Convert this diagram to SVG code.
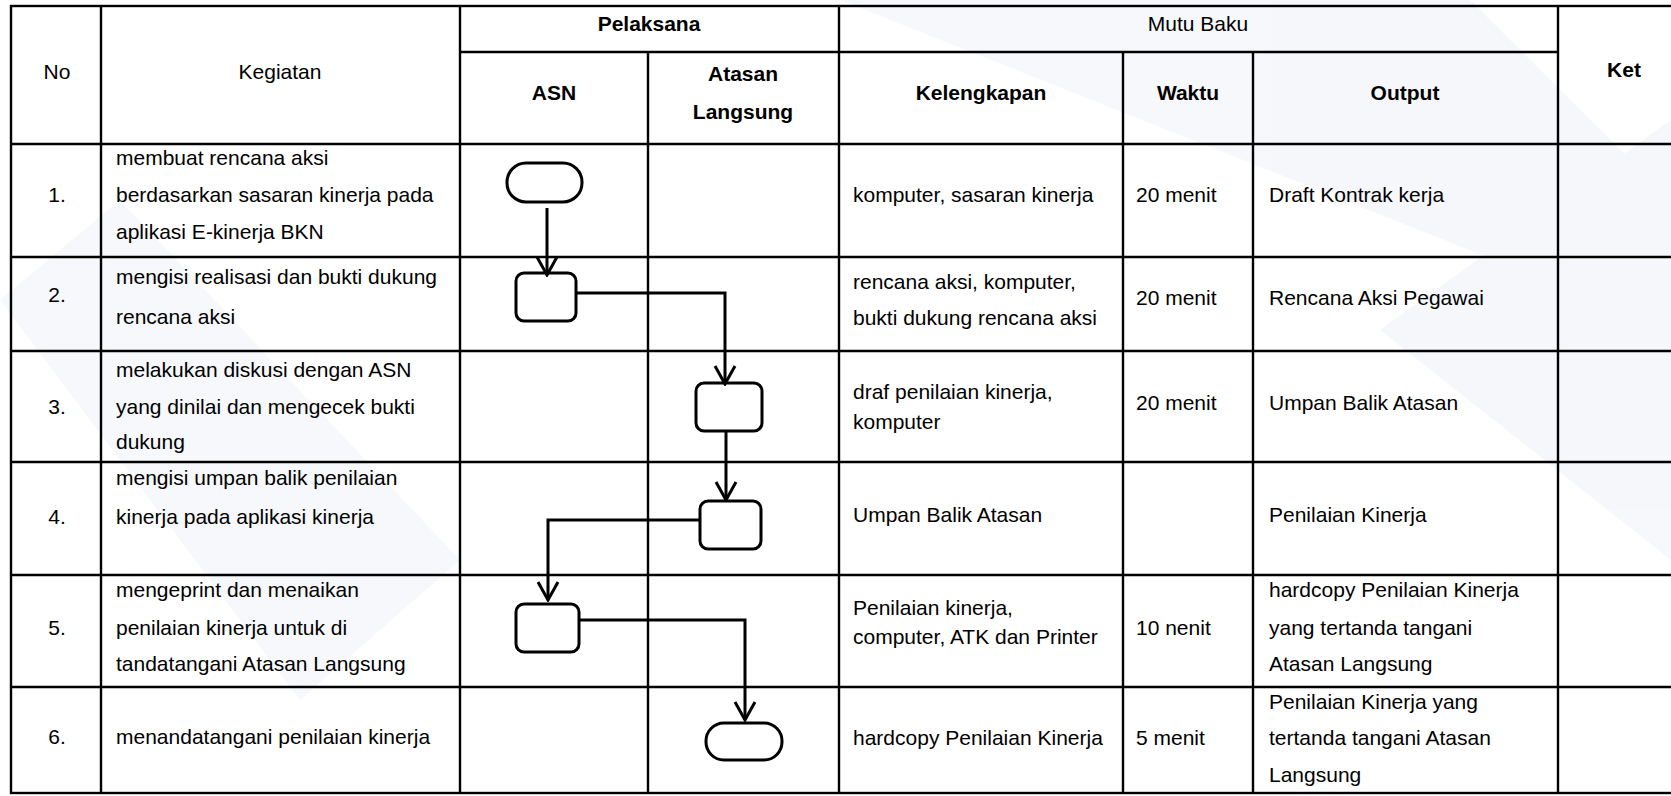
<svg xmlns="http://www.w3.org/2000/svg" width="1671" height="796" viewBox="0 0 1671 796">
  <style>
    .t{font-family:"Liberation Sans",Arial,sans-serif;font-size:21px;fill:#000}
    .b{font-weight:bold}
    .m{text-anchor:middle}
    .grid{stroke:#000;stroke-width:2.4;fill:none}
    .node{fill:none;stroke:#000;stroke-width:3}
    .conn{fill:none;stroke:#000;stroke-width:3}
  </style>
  <defs>
    <marker id="arr" viewBox="-20 -12 22 24" refX="0" refY="0" markerWidth="22" markerHeight="24" markerUnits="userSpaceOnUse" orient="auto">
      <path d="M-18,-10 L0,0 L-18,10" fill="none" stroke="#000" stroke-width="3"/>
    </marker>
  </defs>
  <rect width="1671" height="796" fill="#fff"/>
  <g id="background" fill="#eef2f8" opacity="0.55">
    <polygon points="840,0 1470,0 1671,200 1671,330"/>
    <polygon points="0,300 120,200 460,560 300,700"/>
    <polygon points="1380,330 1671,120 1671,560"/>
  </g>
  <g id="table">
    <rect class="grid" x="11" y="6" width="1679" height="787"/>
    <line class="grid" x1="460" y1="52" x2="1558" y2="52"/>
    <line class="grid" x1="11" y1="144" x2="1690" y2="144"/>
    <line class="grid" x1="11" y1="257" x2="1690" y2="257"/>
    <line class="grid" x1="11" y1="351" x2="1690" y2="351"/>
    <line class="grid" x1="11" y1="462" x2="1690" y2="462"/>
    <line class="grid" x1="11" y1="575" x2="1690" y2="575"/>
    <line class="grid" x1="11" y1="687" x2="1690" y2="687"/>
    <line class="grid" x1="101" y1="6" x2="101" y2="793"/>
    <line class="grid" x1="460" y1="6" x2="460" y2="793"/>
    <line class="grid" x1="648" y1="52" x2="648" y2="793"/>
    <line class="grid" x1="839" y1="6" x2="839" y2="793"/>
    <line class="grid" x1="1123" y1="52" x2="1123" y2="793"/>
    <line class="grid" x1="1253" y1="52" x2="1253" y2="793"/>
    <line class="grid" x1="1558" y1="6" x2="1558" y2="793"/>
  </g>
  <g id="header">
    <text class="t m" x="57" y="79">No</text>
    <text class="t m" x="280" y="79">Kegiatan</text>
    <text class="t m b" x="649" y="31">Pelaksana</text>
    <text class="t m" x="1198" y="31">Mutu Baku</text>
    <text class="t m b" x="554" y="100">ASN</text>
    <text class="t m b" x="743" y="81">Atasan</text>
    <text class="t m b" x="743" y="119">Langsung</text>
    <text class="t m b" x="981" y="100">Kelengkapan</text>
    <text class="t m b" x="1188" y="100">Waktu</text>
    <text class="t m b" x="1405" y="100">Output</text>
    <text class="t m b" x="1624" y="77">Ket</text>
  </g>
  <g id="row1">
    <text class="t m" x="57" y="202">1.</text>
    <text class="t" x="116" y="165">membuat rencana aksi</text>
    <text class="t" x="116" y="202">berdasarkan sasaran kinerja pada</text>
    <text class="t" x="116" y="239">aplikasi E-kinerja BKN</text>
    <text class="t" x="853" y="202">komputer, sasaran kinerja</text>
    <text class="t" x="1136" y="202">20 menit</text>
    <text class="t" x="1269" y="202">Draft Kontrak kerja</text>
  </g>
  <g id="row2">
    <text class="t m" x="57" y="302">2.</text>
    <text class="t" x="116" y="284">mengisi realisasi dan bukti dukung</text>
    <text class="t" x="116" y="324">rencana aksi</text>
    <text class="t" x="853" y="289">rencana aksi, komputer,</text>
    <text class="t" x="853" y="325">bukti dukung rencana aksi</text>
    <text class="t" x="1136" y="305">20 menit</text>
    <text class="t" x="1269" y="305">Rencana Aksi Pegawai</text>
  </g>
  <g id="row3">
    <text class="t m" x="57" y="414">3.</text>
    <text class="t" x="116" y="377">melakukan diskusi dengan ASN</text>
    <text class="t" x="116" y="414">yang dinilai dan mengecek bukti</text>
    <text class="t" x="116" y="449">dukung</text>
    <text class="t" x="853" y="399">draf penilaian kinerja,</text>
    <text class="t" x="853" y="429">komputer</text>
    <text class="t" x="1136" y="410">20 menit</text>
    <text class="t" x="1269" y="410">Umpan Balik Atasan</text>
  </g>
  <g id="row4">
    <text class="t m" x="57" y="524">4.</text>
    <text class="t" x="116" y="485">mengisi umpan balik penilaian</text>
    <text class="t" x="116" y="524">kinerja pada aplikasi kinerja</text>
    <text class="t" x="853" y="522">Umpan Balik Atasan</text>
    <text class="t" x="1269" y="522">Penilaian Kinerja</text>
  </g>
  <g id="row5">
    <text class="t m" x="57" y="635">5.</text>
    <text class="t" x="116" y="597">mengeprint dan menaikan</text>
    <text class="t" x="116" y="635">penilaian kinerja untuk di</text>
    <text class="t" x="116" y="671">tandatangani Atasan Langsung</text>
    <text class="t" x="853" y="615">Penilaian kinerja,</text>
    <text class="t" x="853" y="644">computer, ATK dan Printer</text>
    <text class="t" x="1136" y="635">10 nenit</text>
    <text class="t" x="1269" y="597">hardcopy Penilaian Kinerja</text>
    <text class="t" x="1269" y="635">yang tertanda tangani</text>
    <text class="t" x="1269" y="671">Atasan Langsung</text>
  </g>
  <g id="row6">
    <text class="t m" x="57" y="744">6.</text>
    <text class="t" x="116" y="744">menandatangani penilaian kinerja</text>
    <text class="t" x="853" y="745">hardcopy Penilaian Kinerja</text>
    <text class="t" x="1136" y="745">5 menit</text>
    <text class="t" x="1269" y="709">Penilaian Kinerja yang</text>
    <text class="t" x="1269" y="745">tertanda tangani Atasan</text>
    <text class="t" x="1269" y="782">Langsung</text>
  </g>
  <g id="node-start"><rect class="node" x="507" y="163" width="75" height="39" rx="19" ry="19"/></g>
  <g id="node-2"><rect class="node" x="516" y="273" width="60" height="48" rx="8" ry="8"/></g>
  <g id="node-3"><rect class="node" x="696" y="383" width="66" height="48" rx="8" ry="8"/></g>
  <g id="node-4"><rect class="node" x="700" y="501" width="61" height="48" rx="8" ry="8"/></g>
  <g id="node-5"><rect class="node" x="516" y="604" width="63" height="48" rx="8" ry="8"/></g>
  <g id="node-end"><rect class="node" x="706" y="723" width="76" height="37" rx="18" ry="18"/></g>
  <g id="connectors">
    <path class="conn" d="M547,208 V275" marker-end="url(#arr)"/>
    <path class="conn" d="M576,293 H725 V384" marker-end="url(#arr)"/>
    <path class="conn" d="M726,431 V500" marker-end="url(#arr)"/>
    <path class="conn" d="M700,520 H548 V600" marker-end="url(#arr)"/>
    <path class="conn" d="M579,620 H745 V720" marker-end="url(#arr)"/>
  </g>
</svg>
